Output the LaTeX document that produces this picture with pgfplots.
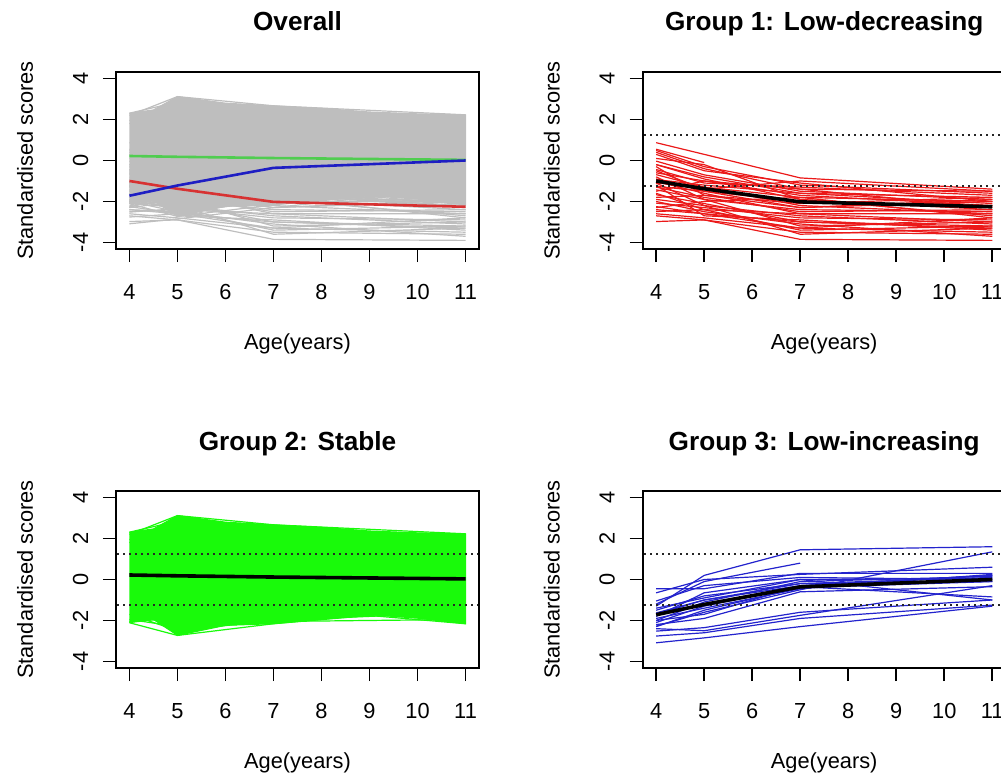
\documentclass[border=0pt]{standalone}
\usepackage{pgfplots}
\usepackage{pgfplotstable}
\pgfplotsset{compat=1.18}
\usepackage{fontspec}
\setmainfont{Liberation Sans}

\definecolor{ovgray}{RGB}{190,190,190}
\definecolor{gred}{RGB}{235,25,25}
\definecolor{ggreen}{RGB}{25,250,10}
\definecolor{gblue}{RGB}{35,35,205}
\definecolor{mgreen}{RGB}{80,205,80}
\definecolor{mred}{RGB}{215,50,50}
\definecolor{mblue}{RGB}{30,30,195}

% Group 1: Low-decreasing (one column per child)
\pgfplotstableread{
age l1 l2 l3 l4 l5 l6 l7 l8 l9 l10 l11 l12 l13 l14 l15 l16 l17 l18 l19 l20 l21 l22 l23 l24 l25 l26 l27 l28 l29 l30 l31 l32 l33 l34 l35 l36 l37 l38
4 0.87 0.55 0.49 0.30 -0.03 -0.20 -0.44 -0.69 -0.93 -1.02 -1.26 -1.43 -1.67 -2.08 -2.25 -2.49 -2.70 -2.98 -0.50 -1.80 -0.80 -1.10 -2.00 0.10 -1.50 -0.30 -2.30 -1.20 -0.20 -0.60 -1.30 -1.90 -2.40 -0.90 0.40 -1.60 -2.60 -1.10
5 0.30 -0.10 -0.30 -0.50 -0.70 -0.90 -1.10 -1.30 -1.20 -1.60 -1.50 -1.90 -2.10 -2.30 -2.60 -2.40 -2.90 -2.90 -1.40 -1.70 -1.90 -2.20 -2.50 -0.20 -1.00 -1.70 -2.00 -2.70 -0.80 -1.00 -1.80 -2.20 -2.60 -1.50 -0.40 -2.40 -2.80 -1.30
7 -0.85 nan -1.20 -1.10 -1.50 -1.90 -1.30 -2.20 -1.60 -2.60 -2.00 -2.40 -3.00 -2.80 -3.30 -2.60 -3.85 -3.50 -1.00 -2.10 -3.20 -3.60 -3.10 -1.90 -1.40 -2.30 -1.80 -2.90 -1.60 -1.70 -2.50 -2.70 -3.00 -2.30 -1.40 -3.40 -3.30 -1.80
11 -1.40 nan -1.60 -2.00 -1.90 -2.40 -1.70 -2.60 -2.10 -3.00 -2.20 -2.50 -3.20 -2.90 -3.50 -2.60 -3.90 -3.60 -1.50 -1.80 -3.00 -3.30 -3.70 -2.70 -2.30 -2.00 -2.80 -3.40 -1.80 -2.20 -2.40 -3.10 -3.30 -1.90 -1.50 -3.20 -2.80 -2.00
}\gone

% Group 2: Stable (edge lines; the dense band is given by its envelope)
\pgfplotstableread{
age k1 k2 k3 k4 k5 k6 k7 k8
4 2.20 2.31 1.95 -2.11 -1.95 -2.05 1.80 -1.70
5 3.12 2.85 2.40 -2.73 -2.30 -1.90 2.70 -2.50
7 2.67 2.55 2.30 -2.16 -1.35 -2.05 2.45 -2.00
11 2.23 2.05 2.20 -1.35 -2.16 -1.95 2.00 -1.60
}\gtwo

\pgfplotstableread{
x y
4 2.31
4.5 2.47
5 3.12
6 2.80
7 2.67
8 2.55
9 2.37
10 2.28
11 2.23
11 -2.16
10 -1.89
9 -1.72
8 -1.95
7 -2.16
6 -2.24
5 -2.73
4.5 -1.95
4 -2.11
}\gtwoenv

% Group 3: Low-increasing
\pgfplotstableread{
age m1 m2 m3 m4 m5 m6 m7 m8 m9 m10 m11 m12 m13 m14 m15 m16 m17 m18 m19 m20 m21
4 -1.30 -1.20 -0.45 -0.65 -1.05 -1.63 -1.80 -2.10 -2.28 -2.00 -1.50 -2.52 -2.76 -3.09 -2.40 -2.20 -1.90 -1.70 -1.40 -2.30 -2.00
5 0.20 -0.10 -0.45 0.00 -0.30 -1.00 -0.65 -1.30 -1.60 -1.10 -0.80 -2.35 -2.60 -2.85 -2.50 -1.90 -1.40 -1.00 -0.90 -1.50 -1.70
7 1.45 0.80 0.30 0.25 0.10 -0.30 0.00 -0.35 -0.50 -0.10 -0.20 -1.60 -1.90 -2.30 -1.75 -0.60 -0.45 -0.20 0.00 -0.40 -0.30
11 1.60 nan 0.30 0.60 0.00 0.20 -1.00 -0.85 1.35 0.15 -0.10 -1.00 -1.25 -1.30 -0.30 -0.35 0.25 0.10 0.05 -0.10 0.20
}\gthree

% Group means
\pgfplotstableread{
age g1 g2 g3
4 -1.00 0.22 -1.72
5 -1.38 0.18 -1.22
7 -2.02 0.12 -0.36
11 -2.26 0.03 0.00
}\means

\pgfplotsset{
  panel/.style={
    scale only axis, width=181.5pt, height=88.5pt,
    xmin=3.72, xmax=11.28, ymin=-4.32, ymax=4.32,
    xtick={4,5,6,7,8,9,10,11}, xticklabels={4,5,6,7,8,9,10,11},
    ytick={-4,-2,0,2,4}, yticklabels={-4,-2,0,2,4},
    xtick pos=bottom, ytick pos=left,
    tick align=outside, major tick length=6.5pt,
    tick style={line width=0.8pt, black},
    axis line style={line width=0.8pt, black},
    axis on top, unbounded coords=jump,
    tick label style={font=\fontsize{10.9}{13}\selectfont, inner sep=0pt},
    xticklabel style={anchor=base, yshift=-18.5pt},
    yticklabel style={anchor=base, xshift=-7.5pt, rotate=90},
    every axis title/.style={at={(axis description cs:0.5,1)}, anchor=base, yshift=20.5pt,
      font=\bfseries\fontsize{13.1}{15}\selectfont},
    every axis x label/.style={at={(axis description cs:0.5,0)}, anchor=base, yshift=-50pt,
      font=\fontsize{10.9}{13}\selectfont},
    every axis y label/.style={at={(axis description cs:0,0.5)}, xshift=-41.5pt, rotate=90, anchor=base,
      font=\fontsize{10.9}{13}\selectfont},
    xlabel={Age(years)}, ylabel={Standardised scores},
  },
  ind/.style={line width=0.6pt},
  dots/.style={black!85, line width=0.7pt, dash pattern=on 0.9pt off 2.1pt},
}

\begin{document}
\begin{tikzpicture}
\useasboundingbox (0,0) rectangle (500.5pt,386.5pt);

% Overall
\begin{axis}[panel, at={(58pt,262pt)}, anchor=south west, title={Overall}]
  \addplot[fill=ovgray, draw=ovgray, line width=0.5pt] table[x=x,y=y] {\gtwoenv};
  \pgfplotsinvokeforeach{1,...,8}{\addplot[ind, ovgray] table[x=age,y=k#1] {\gtwo};}
  \pgfplotsinvokeforeach{1,...,38}{\addplot[ind, ovgray] table[x=age,y=l#1] {\gone};}
  \pgfplotsinvokeforeach{1,...,21}{\addplot[ind, ovgray] table[x=age,y=m#1] {\gthree};}
  \addplot[mgreen, line width=1.3pt] table[x=age,y=g2] {\means};
  \addplot[mred, line width=1.3pt] table[x=age,y=g1] {\means};
  \addplot[mblue, line width=1.3pt] table[x=age,y=g3] {\means};
\end{axis}

% Group 1
\begin{axis}[panel, at={(321.35pt,262pt)}, anchor=south west, title={Group 1: Low-decreasing}]
  \pgfplotsinvokeforeach{1,...,38}{\addplot[ind, gred] table[x=age,y=l#1] {\gone};}
  \addplot[dots] coordinates {(3.5,1.25) (11.5,1.25)};
  \addplot[dots] coordinates {(3.5,-1.25) (11.5,-1.25)};
  \addplot[black, line width=1.8pt] table[x=age,y=g1] {\means};
\end{axis}

% Group 2
\begin{axis}[panel, at={(58pt,52.5pt)}, anchor=south west, title={Group 2: Stable}]
  \addplot[fill=ggreen, draw=ggreen, line width=0.5pt] table[x=x,y=y] {\gtwoenv};
  \pgfplotsinvokeforeach{1,...,8}{\addplot[ind, ggreen] table[x=age,y=k#1] {\gtwo};}
  \addplot[dots] coordinates {(3.5,1.25) (11.5,1.25)};
  \addplot[dots] coordinates {(3.5,-1.25) (11.5,-1.25)};
  \addplot[black, line width=1.8pt] table[x=age,y=g2] {\means};
\end{axis}

% Group 3
\begin{axis}[panel, at={(321.35pt,52.5pt)}, anchor=south west, title={Group 3: Low-increasing}]
  \pgfplotsinvokeforeach{1,...,21}{\addplot[ind, gblue] table[x=age,y=m#1] {\gthree};}
  \addplot[dots] coordinates {(3.5,1.25) (11.5,1.25)};
  \addplot[dots] coordinates {(3.5,-1.25) (11.5,-1.25)};
  \addplot[black, line width=1.8pt] table[x=age,y=g3] {\means};
\end{axis}
\end{tikzpicture}
\end{document}
